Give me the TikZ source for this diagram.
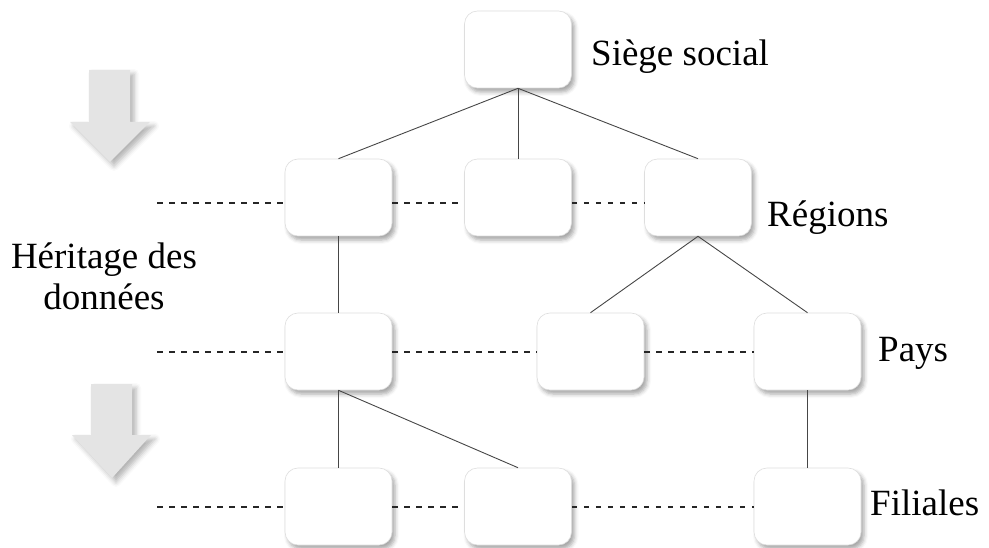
\documentclass[tikz,border=0pt]{standalone}
\usepackage{fontspec}
\setmainfont{Liberation Serif}
\usetikzlibrary{shadows.blur}
\definecolor{arrowgray}{RGB}{228,228,228}
\definecolor{boxedge}{RGB}{222,222,222}
\definecolor{linegray}{RGB}{70,70,70}
\tikzset{
  x=1pt, y=-1pt,
  unit/.style={draw=boxedge, line width=0.6pt, fill=white, rounded corners=13pt,
    minimum width=107pt, minimum height=77pt, inner sep=0pt,
    blur shadow={shadow xshift=3pt, shadow yshift=-4pt, shadow blur radius=4pt, shadow opacity=35}},
  lbl/.style={font=\fontsize{37}{42}\selectfont, inner sep=0pt, anchor=base west},
  tree/.style={line width=0.9pt, draw=linegray},
  level/.style={line width=2.2pt, dash pattern=on 5.5pt off 6.5pt, draw=black!85},
  bigarrow/.style={fill=arrowgray, draw=none,
    blur shadow={shadow xshift=4pt, shadow yshift=-4pt, shadow blur radius=5pt, shadow opacity=30}}
}
\begin{document}
\begin{tikzpicture}
\useasboundingbox (0,0) rectangle (989,548);
% arrows
\path[bigarrow] (89,70) -- (130,70) -- (130,122) -- (150,122) -- (110,162) -- (70,122) -- (89,122) -- cycle;
\path[bigarrow] (91,384) -- (132,384) -- (132,435) -- (151,435) -- (112,478) -- (72,435) -- (91,435) -- cycle;
% boxes
\node[unit] (hq) at (518,49.5) {};
\node[unit] (r1) at (338.5,197.5) {};
\node[unit] (r2) at (518,197.5) {};
\node[unit] (r3) at (698,197.5) {};
\node[unit] (p1) at (338.5,351.5) {};
\node[unit] (p2) at (590.5,351.5) {};
\node[unit] (p3) at (807.5,351.5) {};
\node[unit] (f1) at (338.5,506.5) {};
\node[unit] (f2) at (518,506.5) {};
\node[unit] (f3) at (807.5,506.5) {};
% dashed level lines
\coordinate (d2) at (157,203);
\coordinate (d3) at (157,352);
\coordinate (d4) at (157,507);
\draw[level] (d2) -- (r1.west |- d2);
\draw[level] (r1.east |- d2) -- (r2.west |- d2);
\draw[level] (r2.east |- d2) -- (r3.west |- d2);
\draw[level] (d3) -- (p1.west |- d3);
\draw[level] (p1.east |- d3) -- (p2.west |- d3);
\draw[level] (p2.east |- d3) -- (p3.west |- d3);
\draw[level] (d4) -- (f1.west |- d4);
\draw[level] (f1.east |- d4) -- (f2.west |- d4);
\draw[level] (f2.east |- d4) -- (f3.west |- d4);
% tree lines
\draw[tree] (hq.south) -- (r1.north);
\draw[tree] (hq.south) -- (r2.north);
\draw[tree] (hq.south) -- (r3.north);
\draw[tree] (r1.south) -- (p1.north);
\draw[tree] (r3.south) -- (p2.north);
\draw[tree] (r3.south) -- (p3.north);
\draw[tree] (p1.south) -- (f1.north);
\draw[tree] (p1.south) -- (f2.north);
\draw[tree] (p3.south) -- (f3.north);
% labels
\node[lbl] (t1) at (591,66) {Siège social};
\node[lbl] (t2) at (767,227) {Régions};
\node[lbl] (t3) at (878,362) {Pays};
\node[lbl] (t4) at (870,515) {Filiales};
\node[font=\fontsize{37}{41}\selectfont, align=center, inner sep=0pt, anchor=base] (t5) at (104,310) {Héritage des\\données};
\end{tikzpicture}
\end{document}
